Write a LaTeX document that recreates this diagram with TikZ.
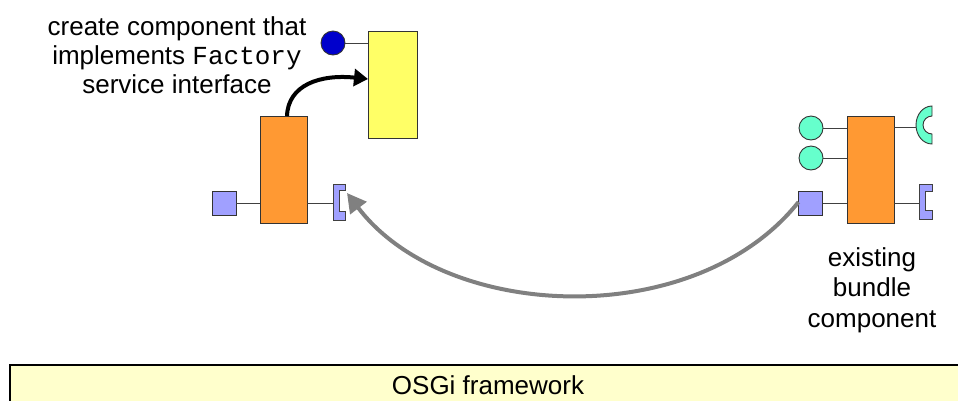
\documentclass[tikz,border=0pt]{standalone}
\usepackage{fontspec}
\setmainfont{Liberation Sans}
\newfontfamily\courierfont{Liberation Mono}
\usetikzlibrary{arrows.meta}
\definecolor{orangec}{RGB}{255,153,51}
\definecolor{yellowc}{RGB}{255,255,102}
\definecolor{bluec}{RGB}{0,0,204}
\definecolor{greenc}{RGB}{102,255,204}
\definecolor{lavc}{RGB}{160,160,255}
\definecolor{framec}{RGB}{255,255,204}
\definecolor{arrowgray}{RGB}{128,128,128}
\definecolor{wirec}{RGB}{64,64,64}
\tikzset{
  comp/.style={draw=black!80, line width=0.9, fill=orangec, minimum width=47, minimum height=107, inner sep=0, outer sep=0},
  newcomp/.style={comp, fill=yellowc, minimum width=49},
  svc/.style={circle, draw=black!80, line width=0.9, minimum size=24, inner sep=0, outer sep=0},
  pkg/.style={draw=black!80, line width=0.9, fill=lavc, minimum size=24, inner sep=0, outer sep=0},
  wire/.style={draw=wirec, line width=0.9},
  recept/.style={draw=black!75, line width=0.9, fill=lavc},
  ring/.style={draw=black!80, line width=0.9, fill=greenc},
  lbl/.style={font=\fontsize{26}{29}\selectfont, align=center, inner sep=0},
}
\begin{document}
\begin{tikzpicture}[x=1pt, y=-1pt]
\useasboundingbox (0,0) rectangle (958,400);
\clip (0,0) rectangle (958,400);

% framework
\node[draw=black, line width=1.6, fill=framec, minimum width=970, minimum height=50, anchor=north west, inner sep=0] (fw) at (9,364) {};
\node[font=\fontsize{26}{30}\selectfont, inner sep=0] (fwlbl) at (488,385.5) {OSGi framework};

% left component
\node[comp] (orL) at (283.5,169.5) {};
\node[pkg] (sqL) at (224,203) {};
\coordinate (brL) at (333,203);
\path[recept] (333,184) -- (345,184) -- (345,190) -- (339,190) -- (339,211) -- (345,211) -- (345,220) -- (333,220) -- cycle;
\draw[wire] (sqL.east) -- (orL.west |- sqL.east);
\draw[wire] (orL.east |- brL) -- (brL);

% new component
\node[newcomp] (yel) at (392.5,84.5) {};
\node[svc, fill=bluec] (svcB) at (333,43) {};
\draw[wire] (svcB.east) -- (yel.west |- svcB.east);

% right component
\node[comp] (orR) at (870.5,169.5) {};
\node[svc, fill=greenc] (svcG1) at (811,128) {};
\node[svc, fill=greenc] (svcG2) at (811,158) {};
\node[pkg] (sqR) at (810.5,203) {};
\coordinate (ringR) at (916,127);
\coordinate (brR) at (919,203);
\path[ring] (932,106) arc[start angle=270, end angle=90, x radius=16, y radius=19] -- (932,134) arc[start angle=90, end angle=270, radius=9] -- cycle;
\path[recept] (919,184) -- (932,184) -- (932,191) -- (925,191) -- (925,210) -- (932,210) -- (932,219) -- (919,219) -- cycle;
\draw[wire] (svcG1.east) -- (orR.west |- svcG1.east);
\draw[wire] (svcG2.east) -- (orR.west |- svcG2.east);
\draw[wire] (sqR.east) -- (orR.west |- sqR.east);
\draw[wire] (orR.east |- ringR) -- (ringR);
\draw[wire] (orR.east |- brR) -- (brR);

% arrows
\coordinate (brLtip) at (347,193);
\draw[line width=4, arrowgray, -{Triangle[length=19, width=20]}] ([yshift=1]sqR.west) .. controls (695,332) and (445,322) .. (brLtip);
\draw[line width=4, black, -{Triangle[length=14, width=17]}] ([xshift=3.5]orL.north) .. controls (288,85) and (320,74) .. ([yshift=5.5]yel.west);

% labels
\node[lbl] (lblTop) at (177,55) {create component that\\implements {\courierfont Factory}\\service interface};
\node[lbl, font=\fontsize{26}{30.5}\selectfont] (lblR) at (872,290) {existing\\bundle\\component};
\end{tikzpicture}
\end{document}
